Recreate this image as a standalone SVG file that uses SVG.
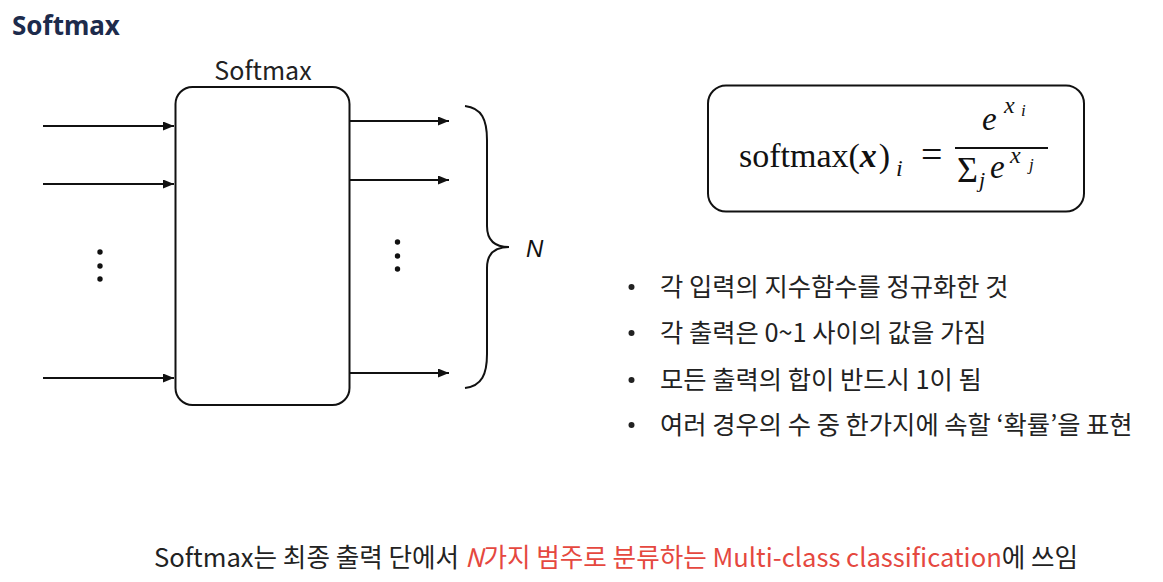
<svg xmlns="http://www.w3.org/2000/svg" width="1163" height="582" viewBox="0 0 1163 582">
<style>
.k{font-family:"Noto Sans CJK KR","Noto Sans",sans-serif;fill:#222}
.m{font-family:"Liberation Serif",serif;fill:#111}
.i{font-style:italic}
.ln{stroke:#111;stroke-width:2;fill:none}
.red{fill:#e5483f}
</style>
<defs>
<marker id="ah" markerUnits="userSpaceOnUse" markerWidth="11" markerHeight="9" refX="11" refY="4.5" orient="auto">
<path d="M0,0 L11,4.5 L0,9 z" fill="#111"/>
</marker>
</defs>
<rect width="1163" height="582" fill="#fff"/>
<text x="12" y="35" font-family="'Noto Sans','Liberation Sans',sans-serif" font-weight="bold" font-size="26" fill="#1d2b4c">Softmax</text>
<g id="softmax-box">
<rect x="175.5" y="87" width="174" height="318" rx="17" class="ln"/>
<text x="263" y="80" class="k" font-size="25" text-anchor="middle">Softmax</text>
</g>
<g id="connectors">
<line x1="43" y1="126" x2="174" y2="126" class="ln" marker-end="url(#ah)"/>
<line x1="43" y1="184" x2="174" y2="184" class="ln" marker-end="url(#ah)"/>
<line x1="43" y1="378" x2="174" y2="378" class="ln" marker-end="url(#ah)"/>
<line x1="350" y1="121" x2="449" y2="121" class="ln" marker-end="url(#ah)"/>
<line x1="350" y1="180" x2="449" y2="180" class="ln" marker-end="url(#ah)"/>
<line x1="350" y1="373" x2="449" y2="373" class="ln" marker-end="url(#ah)"/>
</g>
<g id="dots" fill="#111">
<circle cx="100" cy="252" r="2.7"/><circle cx="100" cy="266" r="2.7"/><circle cx="100" cy="279" r="2.7"/>
<circle cx="397.5" cy="242" r="2.7"/><circle cx="397.5" cy="256" r="2.7"/><circle cx="397.5" cy="269" r="2.7"/>
</g>
<g id="brace">
<path d="M465,106 C482,108 487,120 487,140 L487,226 C487,240 494,247 509,247 C494,247 487,254 487,268 L487,354 C487,374 482,386 465,388" class="ln"/>
<text x="526" y="257" font-family="'Liberation Sans',sans-serif" font-style="italic" font-size="24" fill="#111">N</text>
</g>
<g id="formula">
<rect x="708" y="85.5" width="376" height="126" rx="18" class="ln"/>
<text x="739" y="167" class="m" font-size="34">softmax(<tspan font-weight="bold" font-style="italic">x</tspan><tspan dx="2">)</tspan></text>
<text x="896" y="176" class="m i" font-size="24">i</text>
<text x="921" y="167" class="m" font-size="38">=</text>
<line x1="955" y1="148" x2="1048" y2="148" stroke="#111" stroke-width="1.8"/>
<text x="982" y="130" class="m i" font-size="33">e</text>
<text x="1004" y="113" class="m i" font-size="24">x</text>
<text x="1021" y="116" class="m i" font-size="17">i</text>
<text x="957" y="182" class="m" font-size="36">Σ</text>
<text x="979" y="187" class="m i" font-size="22">j</text>
<text x="990" y="178" class="m i" font-size="33">e</text>
<text x="1010" y="163" class="m i" font-size="24">x</text>
<text x="1029" y="170" class="m i" font-size="17">j</text>
</g>
<g id="bullets">
<circle cx="631.5" cy="287" r="3" fill="#222"/>
<circle cx="631.5" cy="333" r="3" fill="#222"/>
<circle cx="631.5" cy="380" r="3" fill="#222"/>
<circle cx="631.5" cy="425" r="3" fill="#222"/>
<text x="660" y="296" class="k" font-size="25.3">각 입력의 지수함수를 정규화한 것</text>
<text x="660" y="342" class="k" font-size="25.3">각 출력은 0~1 사이의 값을 가짐</text>
<text x="660" y="389" class="k" font-size="25.3">모든 출력의 합이 반드시 1이 됨</text>
<text x="660" y="434" class="k" font-size="25.3">여러 경우의 수 중 한가지에 속할 ‘확률’을 표현</text>
</g>
<g id="caption">
<text x="154" y="567" class="k" font-size="25.6">Softmax는 최종 출력 단에서 <tspan class="red" font-style="italic">N</tspan><tspan class="red">가지 범주로 분류하는 Multi-class classification</tspan>에 쓰임</text>
</g>
</svg>
